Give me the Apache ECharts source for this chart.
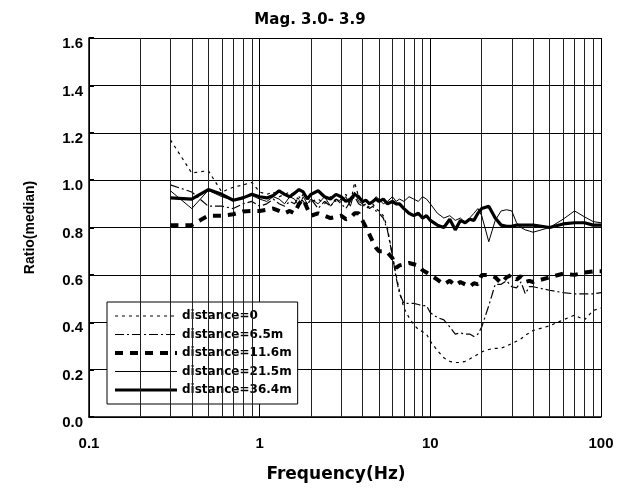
<!DOCTYPE html>
<html>
<head>
<meta charset="utf-8">
<script src="https://cdn.jsdelivr.net/npm/echarts@6/dist/echarts.min.js"></script>
<style>
html,body{margin:0;padding:0;background:#fff;}
#chart{width:620px;height:488px;}
</style>
</head>
<body>
<div id="chart"></div>
<script>
// ---- data ----
var freqs = [0.3,0.4,0.5,0.6,0.7,0.8,0.9,1.0,
  1.1,1.2,1.3,1.4,1.5,1.6,1.7,1.8,1.9,2.0,
  2.2,2.4,2.6,2.8,3.0,3.2,3.4,3.6,3.8,4.0,4.2,4.4,4.6,4.8,5.0,
  5.3,5.6,6.0,6.3,6.6,7.0,7.5,8,8.5,9,9.5,10,
  11,12,13,14,15,16,17,18,19,20,
  22,24,26,28,30,32,34,36,38,40,
  50,60,70,80,90,100];

var dist0 = [1.17,1.03,1.04,0.95,0.97,0.98,0.99,0.95,
  0.94,0.95,0.93,0.94,0.95,0.93,0.92,0.94,0.93,0.91,
  0.92,0.90,0.93,0.91,0.92,0.94,0.90,0.99,0.93,0.90,0.88,0.89,0.90,0.88,0.87,
  0.85,0.80,0.68,0.60,0.53,0.46,0.42,0.39,0.37,0.36,0.35,0.32,
  0.28,0.25,0.235,0.23,0.23,0.235,0.245,0.255,0.265,0.275,
  0.285,0.29,0.29,0.30,0.31,0.32,0.33,0.345,0.355,0.365,
  0.385,0.41,0.43,0.41,0.45,0.46];

var dist65 = [0.98,0.95,0.89,0.89,0.88,0.90,0.91,0.89,
  0.90,0.92,0.90,0.89,0.91,0.90,0.93,0.91,0.89,0.92,
  0.88,0.91,0.89,0.92,0.90,0.88,0.91,0.93,0.90,0.89,0.90,0.88,0.89,0.87,0.86,
  0.84,0.79,0.68,0.59,0.52,0.48,0.48,0.48,0.475,0.47,0.47,0.44,
  0.42,0.41,0.38,0.35,0.355,0.35,0.35,0.34,0.35,0.38,
  0.47,0.56,0.56,0.575,0.55,0.545,0.57,0.52,0.55,0.55,
  0.535,0.525,0.52,0.52,0.52,0.525];

var dist116 = [0.81,0.81,0.85,0.85,0.856,0.868,0.87,0.87,
  0.875,0.88,0.87,0.86,0.87,0.86,0.90,0.92,0.88,0.85,
  0.86,0.85,0.84,0.845,0.85,0.835,0.84,0.86,0.86,0.83,0.80,0.77,0.74,0.715,0.70,
  0.70,0.695,0.67,0.63,0.64,0.645,0.65,0.645,0.64,0.62,0.61,0.60,
  0.58,0.56,0.575,0.555,0.57,0.56,0.55,0.565,0.56,0.60,
  0.60,0.59,0.565,0.59,0.60,0.58,0.595,0.57,0.575,0.57,
  0.59,0.605,0.60,0.61,0.615,0.615];

var dist215 = [0.955,0.88,0.957,0.93,0.915,0.93,0.935,0.92,
  0.91,0.93,0.92,0.90,0.93,0.92,0.89,0.93,0.90,0.92,
  0.90,0.93,0.89,0.92,0.91,0.93,0.89,0.95,0.91,0.90,0.92,0.90,0.91,0.93,0.92,
  0.90,0.91,0.93,0.91,0.92,0.91,0.93,0.92,0.91,0.93,0.92,0.90,
  0.86,0.84,0.85,0.83,0.84,0.82,0.84,0.86,0.88,0.85,
  0.74,0.83,0.87,0.875,0.87,0.82,0.80,0.79,0.785,0.78,
  0.80,0.835,0.87,0.845,0.825,0.82];

var dist364 = [0.925,0.92,0.96,0.94,0.915,0.925,0.94,0.93,
  0.925,0.935,0.955,0.94,0.93,0.945,0.96,0.95,0.92,0.94,
  0.955,0.93,0.92,0.94,0.93,0.91,0.92,0.94,0.93,0.91,0.915,0.90,0.91,0.92,0.91,
  0.92,0.90,0.91,0.90,0.90,0.88,0.86,0.85,0.86,0.84,0.85,0.83,
  0.81,0.80,0.835,0.79,0.83,0.82,0.835,0.83,0.86,0.88,
  0.89,0.84,0.81,0.805,0.805,0.81,0.81,0.81,0.81,0.81,
  0.80,0.815,0.82,0.82,0.81,0.81];

var seriesNames = ['distance=0','distance=6.5m','distance=11.6m','distance=21.5m','distance=36.4m'];

// minor grid positions (2..9 in each decade)
var xMinor = [];
for (var d = 0.1; d < 100; d *= 10) {
  for (var k = 2; k <= 9; k++) xMinor.push(+(d * k).toPrecision(3));
}

function pairs(vals){ return freqs.map(function(f,i){ return [f, vals[i]]; }); }

var styles = [
  {width:1.2, type:[3,4]},
  {width:1.2, type:[9,3,2,3]},
  {width:4, type:[8,7]},
  {width:1, type:'solid'},
  {width:3.2, type:'solid'}
];
var values = [dist0, dist65, dist116, dist215, dist364];

var series = values.map(function(v, i){
  return {
    name: seriesNames[i], type:'line', data: pairs(v), symbol:'none', smooth:false,
    lineStyle:{color:'#000', width:styles[i].width, type:styles[i].type},
    itemStyle:{color:'#000'}, z: 3 + i
  };
});
series.unshift({
  name:'grid', type:'line', data:[], silent:true, z:1,
  markLine:{
    silent:true, symbol:['none','none'], animation:false,
    label:{show:false},
    lineStyle:{color:'#222', width:1, type:'solid'},
    emphasis:{disabled:true},
    data: xMinor.map(function(x){ return {xAxis:x}; })
  }
});

var chart = echarts.init(document.getElementById('chart'));
chart.setOption({
  animation:false,
  backgroundColor:'#fff',
  title:{
    text:'Mag. 3.0- 3.9', left:'center', top:8,
    textStyle:{fontFamily:'DejaVu Sans', fontWeight:'bold', fontSize:15, color:'#000'}
  },
  grid:{left:89, right:19, top:38, bottom:67, containLabel:false},
  legend:{
    data: seriesNames, orient:'vertical', left:107, top:302,
    padding:[8,6,8,6], itemWidth:62, itemHeight:12, itemGap:6.5,
    backgroundColor:'#fff', borderColor:'#000', borderWidth:1, borderRadius:0,
    itemStyle:{opacity:0},
    lineStyle:{width:'inherit', type:'inherit', color:'inherit'},
    textStyle:{fontFamily:'DejaVu Sans', fontWeight:'bold', fontSize:12, color:'#000'},
    selectedMode:false
  },
  xAxis:{
    type:'log', logBase:10, min:0.1, max:100,
    name:'Frequency(Hz)', nameLocation:'middle', nameGap:49,
    nameTextStyle:{fontFamily:'DejaVu Sans', fontWeight:'bold', fontSize:17, color:'#000', padding:[0,18,0,0]},
    axisLine:{show:true, lineStyle:{color:'#000', width:1.5}},
    axisTick:{show:false},
    splitLine:{show:true, lineStyle:{color:'#000', width:1}},
    axisLabel:{margin:19, fontFamily:'Liberation Sans', fontWeight:'bold', fontSize:15, color:'#000',
      formatter:function(v){ return String(v); }}
  },
  yAxis:{
    type:'value', min:0, max:1.6, interval:0.2,
    name:'Ratio(median)', nameLocation:'middle', nameGap:52,
    nameTextStyle:{fontFamily:'Liberation Sans', fontWeight:'bold', fontSize:14, color:'#000'},
    axisLine:{show:true, lineStyle:{color:'#000', width:1.5}},
    axisTick:{show:true, inside:true, length:5, lineStyle:{color:'#000', width:2}},
    splitLine:{show:true, lineStyle:{color:'#000', width:1}},
    axisLabel:{margin:6, fontFamily:'Liberation Sans', fontWeight:'bold', fontSize:15, color:'#000',
      verticalAlign:'top', lineHeight:12,
      formatter:function(v){ return v.toFixed(1); }}
  },
  series: series
});
</script>
</body>
</html>
